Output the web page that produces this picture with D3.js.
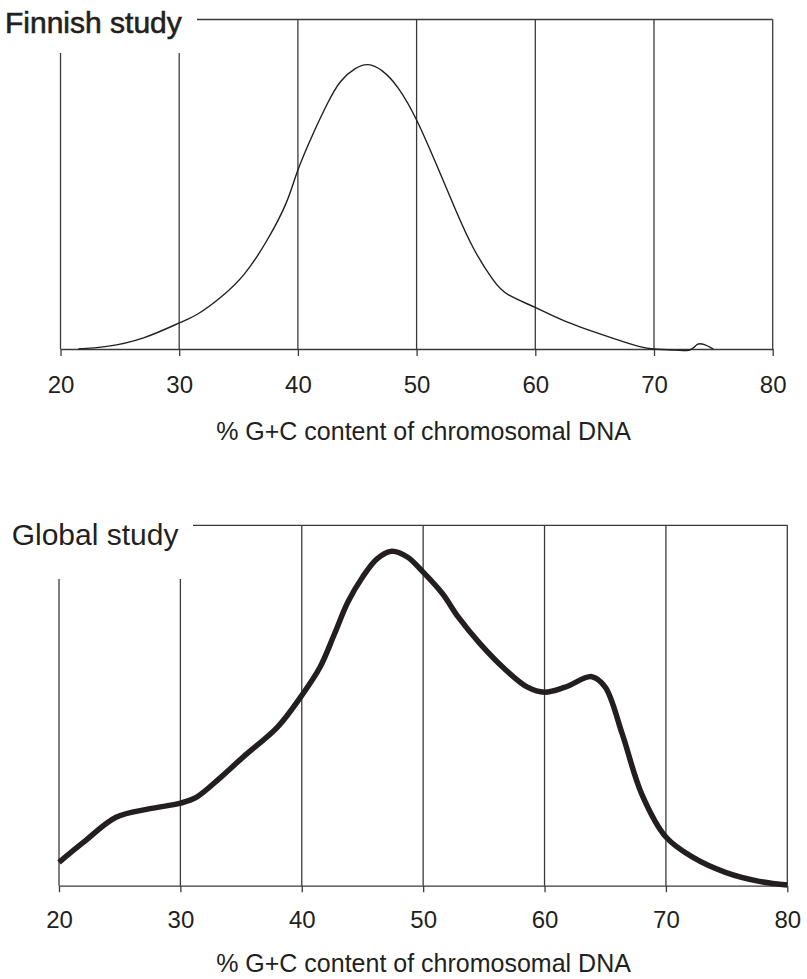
<!DOCTYPE html>
<html>
<head>
<meta charset="utf-8">
<script src="https://cdn.jsdelivr.net/npm/d3@7"></script>
<style>
  html, body { margin: 0; padding: 0; background: #fff; }
  svg { display: block; }
  text { font-family: "Liberation Sans", Arial, Helvetica, sans-serif; fill: #231f20; }
</style>
</head>
<body>
<svg id="chart" width="807" height="979"></svg>
<script>
// ---- data ----
const xTicks = [20, 30, 40, 50, 60, 70, 80];
const tickLabels = ["20", "30", "40", "50", "60", "70", "80"];
const axisTitle = "% G+C content of chromosomal DNA";
const titles = ["Finnish study", "Global study"];

// Finnish study (relative frequency, % of panel height)
const finnishX = [21.5, 23.9, 27, 30, 31.6, 33.5, 35.5, 37.4, 39, 40, 41.3, 42.5, 43.6, 44.8, 45.9, 47.1, 48.45, 50, 51.75, 53.3, 54.8, 56.4, 57.75, 60, 62.6, 66.5, 68.8, 70, 71.5, 73, 73.6, 74.2, 75];
const finnishY = [0, 0.8, 3.4, 7.9, 10.7, 15.7, 22.8, 33, 44.2, 54.3, 65.5, 74.6, 81.2, 85.0, 86.3, 84.4, 79.2, 69.5, 55.3, 42.1, 30.5, 21.2, 16.4, 12.6, 8.3, 3.3, 0.7, 0, -0.3, -0.3, 1.3, 1.4, 0];

// Global study
const globalX = [20, 22, 24.7, 27.4, 30, 31.3, 33.3, 35.3, 38, 40, 41.5, 42.7, 43.8, 45, 46.2, 47.4, 48.7, 50, 51.6, 52.9, 54.7, 56.7, 58.6, 60, 61.7, 63.9, 65, 66.4, 68, 70, 72.2, 74.9, 77.7, 80];
const globalY = [6.5, 12, 19, 21.3, 22.9, 24.5, 30, 36.1, 44, 52.8, 60.6, 69.9, 78.7, 85.6, 90.7, 92.8, 91.2, 87, 81, 74.5, 67.1, 60.2, 55.1, 53.7, 55.1, 58, 55.1, 42.1, 25.5, 13.5, 7.9, 3.7, 1.2, 0.2];

// ---- layout ----
const panels = [
  { title: titles[0], xs: finnishX, ys: finnishY, x0: 60.5, x1: 772.7, top: 19.5, base: 349, gridStart: 53,
    borderStart: 197, tick: 7, tickLabelY: 44.3, axisTitleY: 440, titleX: 5, titleY: 33.3, titleStroke: 0.6,
    curveWidth: 1.4, curve: d3.curveNatural },
  { title: titles[1], xs: globalX, ys: globalY, x0: 59, x1: 787.3, top: 525.3, base: 885.7, gridStart: 579,
    borderStart: 193, tick: 6.5, tickLabelY: 42.6, axisTitleY: 972, titleX: 11.7, titleY: 545, titleStroke: 0,
    curveWidth: 5.5, curve: d3.curveCatmullRom.alpha(0.5) }
];

const svg = d3.select("#chart");
const gridColor = "#3a3a3a";

panels.forEach(p => {
  const x = d3.scaleLinear().domain([20, 80]).range([p.x0, p.x1]);
  const y = d3.scaleLinear().domain([0, 100]).range([p.base, p.top]);
  const g = svg.append("g");

  // top border line (from after title to right edge)
  g.append("line")
    .attr("x1", p.borderStart).attr("x2", x(80))
    .attr("y1", y(100)).attr("y2", y(100))
    .attr("stroke", gridColor).attr("stroke-width", 1.3);

  // vertical grid lines
  g.selectAll("line.grid").data(xTicks).join("line")
    .attr("class", "grid")
    .attr("x1", d => x(d)).attr("x2", d => x(d))
    .attr("y1", d => d <= 30 ? p.gridStart : y(100))
    .attr("y2", y(0))
    .attr("stroke", gridColor).attr("stroke-width", 1.3);

  // x axis
  const axis = d3.axisBottom(x).tickValues(xTicks)
    .tickFormat((d, i) => tickLabels[i]).tickSize(p.tick).tickSizeOuter(0);
  const ax = g.append("g").attr("transform", `translate(0,${y(0)})`).call(axis);
  ax.select(".domain").attr("stroke", gridColor).attr("stroke-width", 1.3);
  ax.selectAll(".tick line").attr("stroke", gridColor).attr("stroke-width", 1.3);
  ax.selectAll(".tick text")
    .attr("y", p.tickLabelY).attr("dy", 0)
    .style("font-family", '"Liberation Sans", Arial, sans-serif')
    .style("font-size", "24px").attr("fill", "#231f20");

  // axis title
  g.append("text")
    .attr("x", 423.5).attr("y", p.axisTitleY)
    .attr("text-anchor", "middle")
    .style("font-size", "25px")
    .text(axisTitle);

  // panel title
  g.append("text")
    .attr("x", p.titleX).attr("y", p.titleY)
    .style("font-size", "30px")
    .attr("stroke", p.titleStroke ? "#231f20" : "none")
    .attr("stroke-width", p.titleStroke)
    .text(p.title);

  // curve
  const pts = p.xs.map((v, i) => [v, p.ys[i]]);
  const line = d3.line().x(d => x(d[0])).y(d => y(d[1])).curve(p.curve);
  g.append("path")
    .attr("d", line(pts))
    .attr("fill", "none")
    .attr("stroke", "#231f20")
    .attr("stroke-width", p.curveWidth)
    .attr("stroke-linejoin", "round")
    .attr("stroke-linecap", "butt");
});
</script>
</body>
</html>
